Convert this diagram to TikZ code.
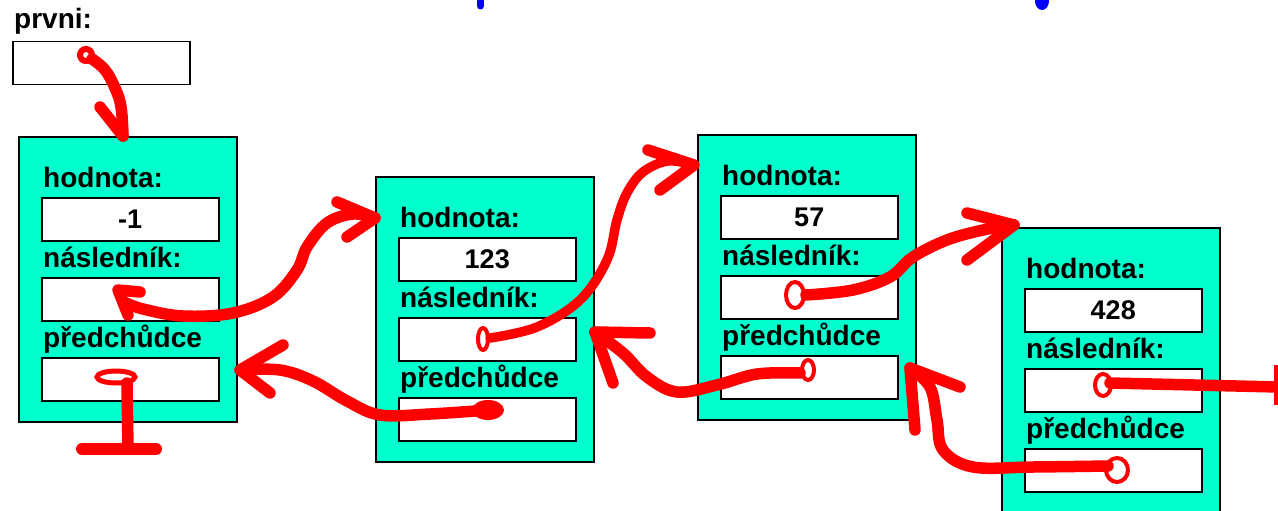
\documentclass[tikz,border=0pt]{standalone}
\usepackage{fontspec}
\setmainfont{Liberation Sans}
\usetikzlibrary{calc}
\definecolor{aqua}{RGB}{0,255,204}
\newcommand\lblfont{\fontsize{28}{30}\selectfont\bfseries}
\newcommand\valfont{\fontsize{27}{29}\selectfont\bfseries}
\tikzset{
 nodebox/.style={draw=black, line width=1.5pt, fill=aqua, minimum width=218pt, minimum height=285pt, anchor=north west, inner sep=0pt},
 field/.style={draw=black, line width=1.5pt, fill=white, minimum width=177pt, minimum height=43pt, anchor=north west, inner sep=0pt, font=\valfont},
 lbl/.style={anchor=base west, inner sep=0pt, font=\lblfont},
 pen/.style={draw=red, line width=11.5pt, line cap=round, line join=round},
 loopen/.style={draw=red, line width=4pt},
}
\newcommand\mkcell[4]{%
 \node[nodebox] (#1) at (#2,#3) {};
 \node[lbl] (#1h) at (#2+25,#3+51) {hodnota:};
 \node[field] (#1v) at (#2+23,#3+61) {#4};
 \node[lbl] (#1nl) at (#2+25,#3+131) {následník:};
 \node[field] (#1n) at (#2+23,#3+141) {};
 \node[lbl] (#1pl) at (#2+25,#3+211) {předchůdce};
 \node[field] (#1p) at (#2+23,#3+221) {};
}
\begin{document}
\begin{tikzpicture}[x=1pt,y=-1pt]
\useasboundingbox (0,0) rectangle (1278,511);
\clip (0,0) rectangle (1278,511);
% title fragments
\fill[blue] (477,-2) rectangle (484,6);
\fill[blue] (480.5,6) circle (3.5);
\fill[blue] (1042,1) ellipse (7 and 9);
% prvni
\node[lbl] (pl) at (14,29) {prvni:};
\node[field] (pbox) at (12,41) {};
% list cells
\mkcell{n1}{18}{136}{-1}
\mkcell{n2}{375}{176}{123}
\mkcell{n3}{697}{134}{57}
\mkcell{n4}{1001}{227}{428}
% arrow ends
\coordinate (Atail) at (86,55);
\coordinate (Atip) at (n1.north -| 123,0);
\coordinate (Btail) at (118,290);
\coordinate (Btip) at (n2.west |- 0,218);
\coordinate (Ctail) at (488,410);
\coordinate (Ctip) at (240,370);
\coordinate (Dtail) at (483,339);
\coordinate (Dtip) at (694,165);
\coordinate (Etail) at (808,370);
\coordinate (Etip) at (595,332);
\coordinate (Ftail) at (795,295);
\coordinate (Ftip) at (1014,225);
\coordinate (Gtail) at (1103,385);
\coordinate (Gend) at (1278,387);
\coordinate (Htail) at (1117,470);
\coordinate (Htip) at (910,368);
% A: prvni -> n1
\draw[loopen, line width=6pt] (Atail) circle (6);
\draw[pen] plot[smooth, tension=0.7] coordinates {(92,59) (105,70) (115,88) (121,107) (Atip)};
\draw[pen] (100,107) -- (Atip);
% B: n1 naslednik -> n2
\draw[pen] (140,292) -- (Btail) -- (128,315);
\draw[pen] plot[smooth, tension=0.6] coordinates {(124,302) (143,309) (183,316) (233,313) (273,297) (297,270) (307,247) (327,223) (353,214) (Btip)};
\draw[pen] (337,202) -- (Btip) -- (347,237);
% C: n2 predchudce -> n1
\fill[red] (Ctail) ellipse (16 and 10);
\draw[pen] plot[smooth, tension=0.6] coordinates {(Ctail) (430,414) (380,415) (347,401) (313,381) (280,370) (Ctip)};
\draw[pen] (283,345) -- (Ctip) -- (270,393);
% D: n2 naslednik -> n3
\draw[loopen] (Dtail) ellipse (5 and 11);
\draw[pen, line width=9.5pt] plot[smooth, tension=0.6] coordinates {(490,338) (537,327) (580,300) (607,260) (617,220) (627,193) (643,172) (668,161) (Dtip)};
\draw[pen] (648,150) -- (Dtip) -- (660,190);
% E: n3 predchudce -> n2
\draw[loopen] (Etail) ellipse (6 and 10);
\draw[pen] plot[smooth, tension=0.6] coordinates {(800,373) (757,374) (717,385) (677,392) (647,377) (623,353) (Etip)};
\draw[pen] (650,333) -- (Etip) -- (613,383);
% F: n3 naslednik -> n4
\draw[loopen] (Ftail) ellipse (9 and 13);
\draw[pen] plot[smooth, tension=0.6] coordinates {(806,295) (853,290) (890,277) (913,257) (947,240) (983,230) (Ftip)};
\draw[pen] (967,213) -- (Ftip) -- (967,260);
% G: n4 naslednik -> off picture
\draw[loopen] (Gtail) ellipse (8 and 11);
\draw[pen] (1110,383) -- (Gend);
\draw[draw=red, line width=5pt] (1276,365) -- (1276,405);
% H: n4 predchudce -> n3
\draw[loopen] (Htail) ellipse (11 and 12);
\draw[pen] plot[smooth, tension=0.6] coordinates {(1108,466) (1033,467) (973,467) (943,450) (937,420) (930,387) (Htip)};
\draw[pen] (960,387) -- (Htip) -- (915,430);
% null pointer in n1
\draw[loopen, line width=5pt] (116,377) ellipse (19 and 6);
\draw[pen] (127,383) -- (128,449);
\draw[pen, line width=12pt] (82,449) -- (156,449);
\end{tikzpicture}
\end{document}
